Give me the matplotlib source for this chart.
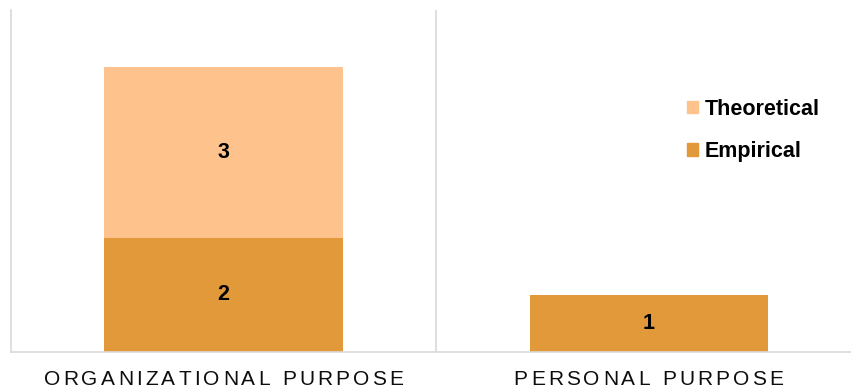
import matplotlib
matplotlib.use('Agg')
import matplotlib.pyplot as plt
import matplotlib.transforms as mtransforms
from matplotlib.font_manager import FontProperties, findfont
from matplotlib.ft2font import FT2Font
from matplotlib.patches import Patch

plt.rcParams['font.family'] = ['Liberation Sans', 'DejaVu Sans']

# data
categories = ['ORGANIZATIONAL PURPOSE', 'PERSONAL PURPOSE']
empirical = [2, 1]
theoretical = [3, 0]
series_names = ['Empirical', 'Theoretical']
colors = ['#E1993A', '#FEC38C']
grid_color = '#D9D9D9'

DPI = 100
fig = plt.figure(figsize=(8.51, 3.9), dpi=DPI)
# axes runs a little past the right edge, like the original chart
ax = fig.add_axes([11 / 851, 38 / 390, 850 / 851, 342 / 390])

x = list(range(len(categories)))
b1 = ax.bar(x, empirical, width=0.56, color=colors[0], zorder=2)
b2 = ax.bar(x, theoretical, width=0.56, bottom=empirical, color=colors[1], zorder=2)

# value labels (skip zeros)
ax.bar_label(b1, labels=[str(v) if v else '' for v in empirical], label_type='center',
             fontsize=15.5, fontweight='bold', color='black')
ax.bar_label(b2, labels=[str(v) if v else '' for v in theoretical], label_type='center',
             fontsize=15.5, fontweight='bold', color='black')

ax.set_xlim(-0.5, len(categories) - 0.5)
ax.set_ylim(0, 6)

for s in ['top', 'right']:
    ax.spines[s].set_visible(False)
for s in ['left', 'bottom']:
    ax.spines[s].set_color(grid_color)
    ax.spines[s].set_linewidth(1.2)
ax.set_xticks([])
ax.set_yticks([])

# separators between categories
for i in range(len(categories) - 1):
    ax.axvline(i + 0.5, color=grid_color, linewidth=1.2, zorder=1)

# category labels with wide letter spacing, laid out char by char
label_size = 15
tracking = 3.2  # extra px between letters
fp = FontProperties(family='Liberation Sans', size=label_size)
ft = FT2Font(findfont(fp))
ft.set_size(label_size, DPI)

def advance(ch):
    g = ft.load_char(ord(ch))
    return g.linearHoriAdvance / 65536

for xi, lab in zip(x, categories):
    widths = [advance(c) for c in lab]
    total = sum(widths) + tracking * (len(lab) - 1)
    pos = -total / 2
    for c, w in zip(lab, widths):
        tr = mtransforms.offset_copy(ax.get_xaxis_transform(), fig=fig,
                                     x=pos, y=-33, units='dots')
        ax.text(xi, 0, c, transform=tr, fontproperties=fp, ha='left',
                va='baseline', color='#0d0d0d', clip_on=False)
        pos += w + tracking

# legend: Theoretical above Empirical
handles = [Patch(color=colors[1]), Patch(color=colors[0])]
leg = fig.legend(handles, [series_names[1], series_names[0]],
                 loc='upper left', bbox_to_anchor=(676 / 851, 1 - 88 / 390),
                 frameon=False, handlelength=0.52, handleheight=0.52,
                 handletextpad=0.3, labelspacing=1.0, borderpad=0,
                 prop=FontProperties(family='Liberation Sans', size=15.5, weight='bold'))

fig.savefig('out.png', dpi=DPI)
